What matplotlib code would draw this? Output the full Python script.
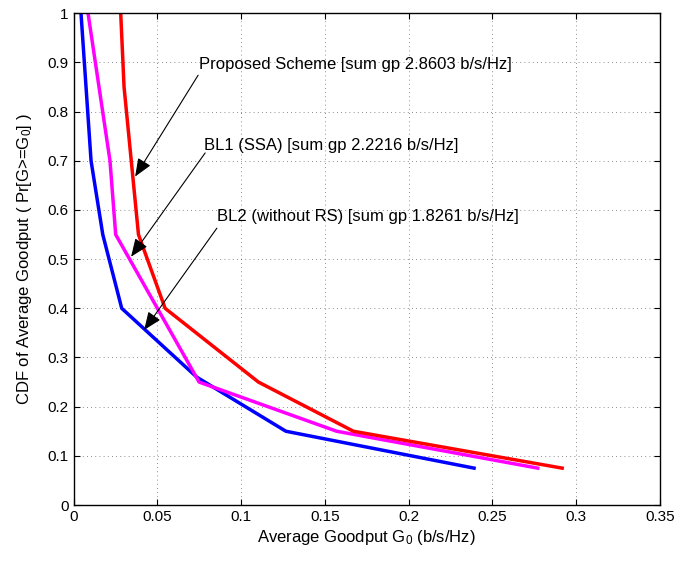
import matplotlib
matplotlib.use('Agg')
import matplotlib.pyplot as plt

plt.rcParams['font.family'] = ['Liberation Sans', 'DejaVu Sans']
plt.rcParams['mathtext.default'] = 'regular'

# CDF levels and goodput values
y_prop = [1.0, 0.85, 0.55, 0.40, 0.25, 0.15, 0.075]
x_prop = [0.0281, 0.0301, 0.0387, 0.0546, 0.1103, 0.1670, 0.2916]

y_bl1 = [1.0, 0.70, 0.55, 0.25, 0.15, 0.075]
x_bl1 = [0.0086, 0.0217, 0.0251, 0.0749, 0.1570, 0.2770]

y_bl2 = [1.0, 0.70, 0.55, 0.40, 0.26, 0.15, 0.075]
x_bl2 = [0.0044, 0.0104, 0.0174, 0.0287, 0.0735, 0.1267, 0.2390]

etiquetas = ['Proposed Scheme [sum gp 2.8603 b/s/Hz]',
             'BL1 (SSA) [sum gp 2.2216 b/s/Hz]',
             'BL2 (without RS) [sum gp 1.8261 b/s/Hz]']
pos_texto = [(0.0749, 0.895), (0.0780, 0.732), (0.0855, 0.586)]
cola_flecha = [(0.0743, 0.874), (0.0785, 0.716), (0.0855, 0.563)]
punta_flecha = [(0.0367, 0.668), (0.0343, 0.505), (0.0421, 0.356)]

fig = plt.figure(figsize=(6.78, 5.63), dpi=100)
ax = fig.add_axes([0.1086, 0.103, 0.8649, 0.8734])

ax.plot(x_bl2, y_bl2, color='#0000ff', linewidth=2.5)
ax.plot(x_bl1, y_bl1, color='#ff00ff', linewidth=2.5)
ax.plot(x_prop, y_prop, color='#ff0000', linewidth=2.5)

for texto, pt, cola, punta in zip(etiquetas, pos_texto, cola_flecha, punta_flecha):
    ax.text(pt[0], pt[1], texto, fontsize=12, va='center', ha='left')
    ax.annotate('', xy=punta, xytext=cola,
                arrowprops=dict(arrowstyle='-|>,head_length=1.1,head_width=0.45',
                                color='black', lw=0.8, shrinkA=0, shrinkB=0))

ax.set_xlim(0, 0.35)
ax.set_ylim(0, 1)
ax.set_xticks([0, 0.05, 0.1, 0.15, 0.2, 0.25, 0.3, 0.35])
ax.set_xticklabels(['0', '0.05', '0.1', '0.15', '0.2', '0.25', '0.3', '0.35'])
ax.set_yticks([i / 10 for i in range(11)])
ax.set_yticklabels(['0', '0.1', '0.2', '0.3', '0.4', '0.5', '0.6', '0.7', '0.8', '0.9', '1'])
ax.tick_params(direction='in', top=True, right=True, labelsize=11, length=4, width=0.8)
ax.grid(True, color='black', linestyle=(0, (1, 4)), linewidth=0.6, alpha=0.6)
for s in ax.spines.values():
    s.set_linewidth(1.0)

ax.set_xlabel('Average Goodput G$_0$ (b/s/Hz)', fontsize=12, labelpad=3)
ax.set_ylabel('CDF of Average Goodput ( Pr[G>=G$_0$] )', fontsize=12, labelpad=10)

plt.savefig('out.png', dpi=100)
